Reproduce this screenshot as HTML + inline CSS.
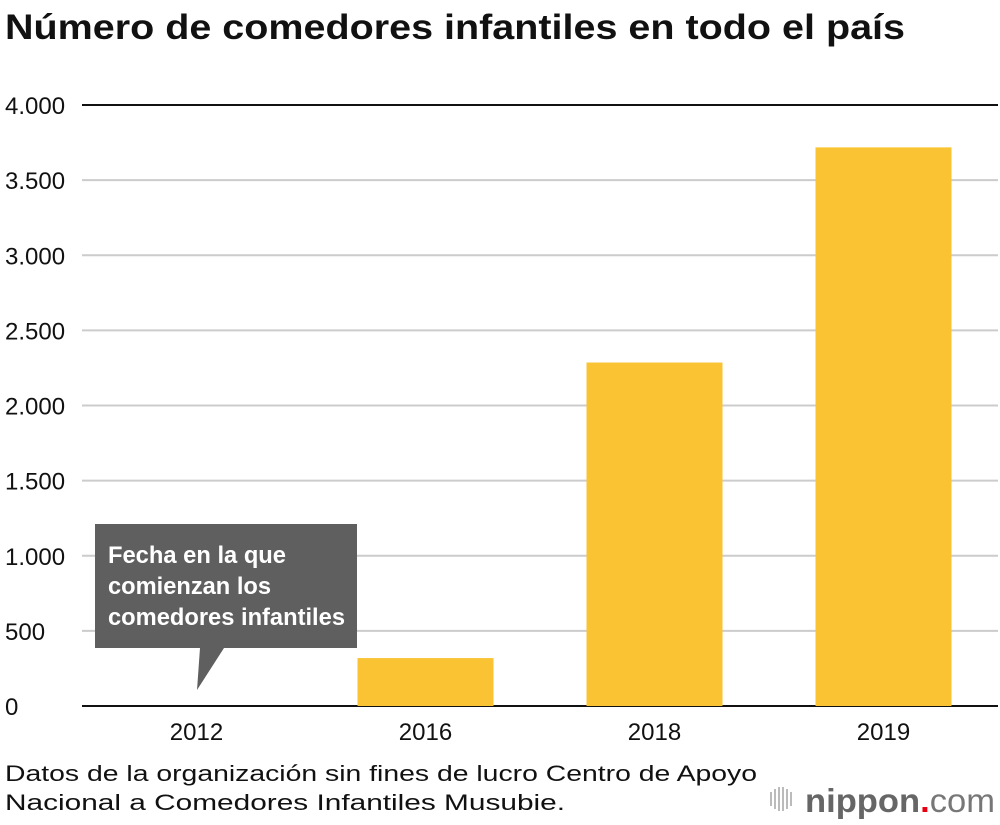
<!DOCTYPE html>
<html><head><meta charset="utf-8"><style>
body{margin:0;background:#fff;width:1000px;height:820px;overflow:hidden;font-family:"Liberation Sans",sans-serif}
</style></head><body>
<svg width="1000" height="820" xmlns="http://www.w3.org/2000/svg">
<text x="5" y="39" font-size="35" font-weight="bold" fill="#111" textLength="900" lengthAdjust="spacingAndGlyphs">Número de comedores infantiles en todo el país</text>
<g id="grid"></g><g id="bars"></g><g id="xl"></g>
<g>
<path d="M95,524 H357 V648 H224 L197,690 L200,648 H95 Z" fill="#5f5f5f"/>
<text fill="#fff" font-size="24" font-weight="bold" font-family="'Liberation Sans Narrow','Liberation Sans',sans-serif">
<tspan x="108" y="563" textLength="178" lengthAdjust="spacingAndGlyphs">Fecha en la que</tspan><tspan x="108" y="594" textLength="163" lengthAdjust="spacingAndGlyphs">comienzan los</tspan><tspan x="108" y="625" textLength="237" lengthAdjust="spacingAndGlyphs">comedores infantiles</tspan></text></g>
<text font-size="22" fill="#111"><tspan x="5" y="781" textLength="752" lengthAdjust="spacingAndGlyphs">Datos de la organización sin fines de lucro Centro de Apoyo</tspan><tspan x="5" y="810" textLength="560" lengthAdjust="spacingAndGlyphs">Nacional a Comedores Infantiles Musubie.</tspan></text>
<g>
<g fill="#bbb"><rect x="770" y="792" width="2" height="14"/><rect x="774" y="789" width="2" height="20"/><rect x="778" y="787" width="2" height="24"/><rect x="782" y="787" width="2" height="24"/><rect x="786" y="789" width="2" height="20"/><rect x="790" y="792" width="2" height="14"/></g>
<text x="805" y="812" font-size="33" font-weight="bold" fill="#666" textLength="190" lengthAdjust="spacingAndGlyphs">nippon<tspan fill="#e60012">.</tspan><tspan font-weight="normal" fill="#777">com</tspan></text></g>
</svg>
<script>
const categories=["2012","2016","2018","2019"];
const values=[0,319,2286,3718];
const ticks=[0,500,1000,1500,2000,2500,3000,3500,4000];
const tickLabels=["0","500","1.000","1.500","2.000","2.500","3.000","3.500","4.000"];
const NS="http://www.w3.org/2000/svg";
const x0=82,x1=998,y0=706,y1=105,max=4000;
const y=v=>y0-(v/max)*(y0-y1);
const bw=(x1-x0)/categories.length;
const xc=i=>x0+bw*(i+0.5);
function mk(t,a,p){const e=document.createElementNS(NS,t);for(const k in a)e.setAttribute(k,a[k]);p.appendChild(e);return e;}
const g=document.getElementById('grid');
ticks.forEach((t,i)=>{
const l=mk('line',{x1:x0,x2:x1,y1:y(t),y2:y(t),stroke:(i==0||i==ticks.length-1)?'#111':'#ccc','stroke-width':2},g);


const tx=mk('text',{x:5,y:y(t)+9,'font-size':24,fill:'#111'},g);tx.textContent=tickLabels[i];


});
const b=document.getElementById('bars'),xl=document.getElementById('xl');
categories.forEach((c,i)=>{
if(values[i]>0){const r=mk('rect',{x:xc(i)-68,width:136,y:y(values[i]),height:y0-y(values[i]),fill:'#f9c333'},b);

}
const t=mk('text',{x:xc(i),y:740,'font-size':24,fill:'#111','text-anchor':'middle'},xl);t.textContent=c;


});
</script>
</body></html>
